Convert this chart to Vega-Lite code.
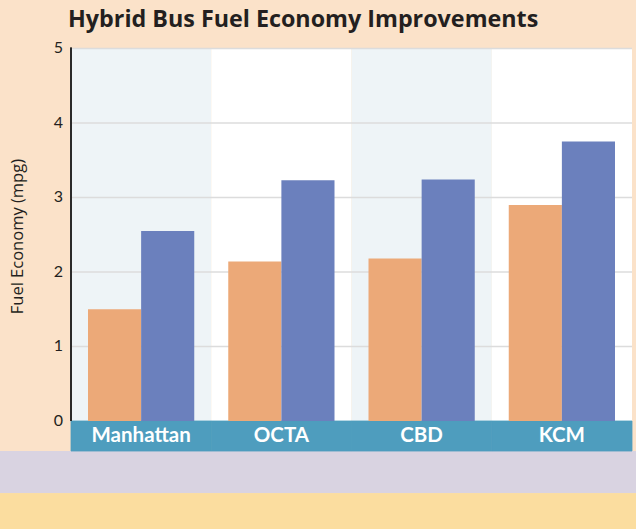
{
  "$schema": "https://vega.github.io/schema/vega-lite/v6.json",
  "width": 636,
  "height": 529,
  "autosize": {"type": "none"},
  "padding": 0,
  "background": "#fbe2c9",
  "config": {
    "view": {"stroke": null},
    "font": "Lato"
  },
  "title": {
    "text": "Hybrid Bus Fuel Economy Improvements",
    "anchor": "start",
    "frame": "group",
    "dx": 68,
    "offset": -32,
    "fontSize": 23.3,
    "font": "Open Sans",
    "fontWeight": "bold",
    "color": "#231f20"
  },
  "datasets": {
    "cats": [
      {"cat": "Manhattan"},
      {"cat": "OCTA"},
      {"cat": "CBD"},
      {"cat": "KCM"}
    ],
    "bars": [
      {"cat": "Manhattan", "series": "Diesel", "mpg": 1.5},
      {"cat": "Manhattan", "series": "Hybrid", "mpg": 2.55},
      {"cat": "OCTA", "series": "Diesel", "mpg": 2.14},
      {"cat": "OCTA", "series": "Hybrid", "mpg": 3.23},
      {"cat": "CBD", "series": "Diesel", "mpg": 2.18},
      {"cat": "CBD", "series": "Hybrid", "mpg": 3.24},
      {"cat": "KCM", "series": "Diesel", "mpg": 2.9},
      {"cat": "KCM", "series": "Hybrid", "mpg": 3.75}
    ],
    "grid": [
      {"level": 1},
      {"level": 2},
      {"level": 3},
      {"level": 4},
      {"level": 5}
    ],
    "ticks": [
      {"level": 0},
      {"level": 1},
      {"level": 2},
      {"level": 3},
      {"level": 4},
      {"level": 5}
    ],
    "ytitle": [
      {"label": "Fuel Economy (mpg)", "mid": 2.475}
    ]
  },
  "layer": [
    {
      "data": {"name": "cats"},
      "mark": {"type": "rect", "fill": "#d9d3e1"},
      "encoding": {
        "y": {"datum": -0.403, "type": "quantitative", "scale": {"domain": [-1.4497, 5.651], "nice": false, "zero": false}, "axis": null},
        "y2": {"datum": -0.974}
      }
    },
    {
      "data": {"name": "cats"},
      "mark": {"type": "rect", "fill": "#fbdd9f"},
      "encoding": {
        "y": {"datum": -0.974, "type": "quantitative", "axis": null},
        "y2": {"datum": -1.4497}
      }
    },
    {
      "data": {"name": "cats"},
      "mark": {"type": "rect"},
      "encoding": {
        "x": {"field": "cat", "type": "nominal", "axis": null,
              "scale": {"domain": ["Manhattan", "OCTA", "CBD", "KCM"], "paddingInner": 0, "paddingOuter": 0.2674, "align": 0.9467}},
        "y": {"datum": 0, "type": "quantitative", "axis": null},
        "y2": {"datum": 5},
        "fill": {"condition": {"test": "datum.cat === 'Manhattan' || datum.cat === 'CBD'", "value": "#eef4f7"}, "value": "#ffffff"}
      }
    },
    {
      "data": {"name": "cats"},
      "mark": {"type": "rect", "fill": "#4e9dbe", "stroke": "#4e9dbe", "strokeWidth": 0.8},
      "encoding": {
        "x": {"field": "cat", "type": "nominal", "axis": null},
        "y": {"datum": 0, "type": "quantitative", "axis": null},
        "y2": {"datum": -0.403}
      }
    },
    {
      "data": {"name": "grid"},
      "mark": {"type": "rule", "stroke": "#dcdcdc", "strokeWidth": 1.6},
      "encoding": {
        "x": {"datum": "Manhattan", "type": "nominal", "bandPosition": 0, "axis": null},
        "x2": {"datum": "KCM", "bandPosition": 1},
        "y": {"field": "level", "type": "quantitative", "axis": null}
      }
    },
    {
      "data": {"name": "bars"},
      "mark": {"type": "bar"},
      "encoding": {
        "x": {"field": "cat", "type": "nominal", "axis": null},
        "xOffset": {"field": "series", "type": "nominal", "scale": {"paddingInner": 0, "paddingOuter": 0.32}},
        "y": {"field": "mpg", "type": "quantitative", "axis": null},
        "color": {"field": "series", "type": "nominal", "legend": null,
                  "scale": {"domain": ["Diesel", "Hybrid"], "range": ["#eca978", "#6b80bd"]}}
      }
    },
    {
      "data": {"name": "cats"},
      "mark": {"type": "rule", "stroke": "#2b2b2b", "strokeWidth": 1.8},
      "encoding": {
        "x": {"datum": "Manhattan", "type": "nominal", "bandPosition": 0, "axis": null},
        "y": {"datum": 0, "type": "quantitative", "axis": null},
        "y2": {"datum": 5.01}
      }
    },
    {
      "data": {"name": "ticks"},
      "mark": {"type": "text", "color": "#231f20", "fontSize": 16, "font": "Lato", "baseline": "middle", "align": "right", "dx": -8},
      "encoding": {
        "x": {"datum": "Manhattan", "type": "nominal", "bandPosition": 0, "axis": null},
        "y": {"field": "level", "type": "quantitative", "axis": null},
        "text": {"field": "level", "type": "quantitative"}
      }
    },
    {
      "data": {"name": "ytitle"},
      "mark": {"type": "text", "color": "#231f20", "fontSize": 16.5, "font": "Open Sans", "baseline": "alphabetic", "align": "center", "angle": 270, "dy": -48},
      "encoding": {
        "x": {"datum": "Manhattan", "type": "nominal", "bandPosition": 0, "axis": null},
        "y": {"field": "mid", "type": "quantitative", "axis": null},
        "text": {"field": "label"}
      }
    },
    {
      "data": {"name": "cats"},
      "mark": {"type": "text", "color": "#ffffff", "fontWeight": "bold", "fontSize": 20.5, "font": "Lato", "baseline": "middle", "align": "center"},
      "encoding": {
        "x": {"field": "cat", "type": "nominal", "axis": null},
        "y": {"datum": -0.2, "type": "quantitative", "axis": null},
        "text": {"field": "cat"}
      }
    }
  ]
}
